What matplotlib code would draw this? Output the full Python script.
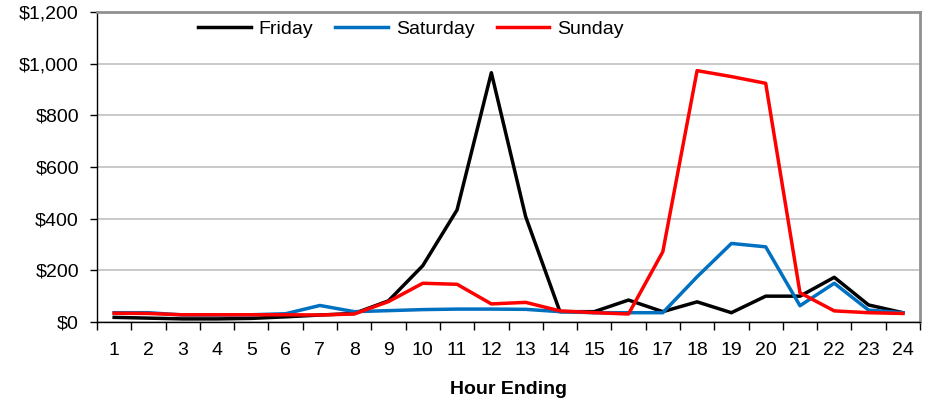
import matplotlib
matplotlib.use('Agg')
import matplotlib.pyplot as plt
from matplotlib.ticker import FuncFormatter, MultipleLocator

plt.rcParams['font.family'] = ['Liberation Sans', 'DejaVu Sans']

hours = list(range(1, 25))
friday = [18, 15, 12, 12, 14, 20, 27, 33, 82, 218, 434, 965, 408, 40,
          40, 85, 40, 78, 36, 100, 100, 173, 66, 36]
saturday = [36, 36, 27, 27, 28, 32, 64, 40, 44, 48, 50, 50, 49, 40,
            36, 36, 36, 175, 304, 291, 63, 150, 46, 36]
sunday = [34, 33, 28, 28, 28, 28, 27, 31, 79, 150, 146, 70, 76, 43,
          36, 31, 272, 973, 950, 924, 113, 43, 36, 33]

fig = plt.figure(figsize=(9.36, 4.05), dpi=100)
ax = fig.add_axes([97/936, 1-322/405, (920-97)/936, (322-12)/405])

ax.plot(hours, friday, color='black', lw=2.5, label='Friday')
ax.plot(hours, saturday, color='#0070C0', lw=2.5, label='Saturday')
ax.plot(hours, sunday, color='#FF0000', lw=2.5, label='Sunday')

ax.set_xlim(0.5, 24.5)
ax.set_ylim(0, 1200)
ax.yaxis.set_major_locator(MultipleLocator(200))
ax.yaxis.set_major_formatter(FuncFormatter(lambda v, p: '${:,.0f}'.format(v)))
ax.set_xticks(hours)
ax.set_xticks([h + 0.5 for h in range(0, 25)], minor=True)
ax.tick_params(axis='x', which='major', length=0, pad=14.5, labelsize=14)
ax.tick_params(axis='x', which='minor', length=6, width=1, direction='out')
ax.tick_params(axis='y', length=5, width=1, direction='out', labelsize=14, pad=8)
ax.grid(axis='y', color='#c0c0c0', lw=1.2)
ax.set_axisbelow(True)

for s in ['top', 'right']:
    ax.spines[s].set_color('#909090')
    ax.spines[s].set_linewidth(2)
for s in ['left', 'bottom']:
    ax.spines[s].set_color('black')
    ax.spines[s].set_linewidth(1)

ax.set_xlabel('Hour Ending', fontsize=14, fontweight='bold', labelpad=16)

ax.legend(loc='center left', bbox_to_anchor=(0.123, 0.945), ncol=3, frameon=False,
          fontsize=14, handlelength=2.7, columnspacing=1.15, handletextpad=0.4,
          borderaxespad=0, borderpad=0)

fig.savefig('out.png', dpi=100)
